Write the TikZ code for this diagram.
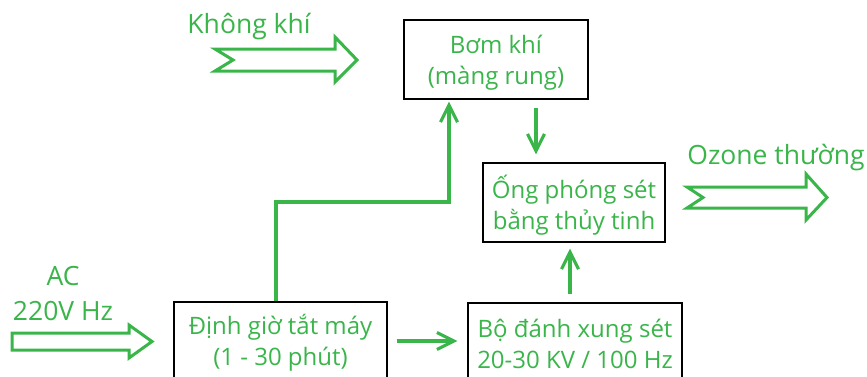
\documentclass[tikz,border=0pt]{standalone}
\usepackage{fontspec}
\setmainfont{Open Sans}
\usetikzlibrary{arrows.meta}
\definecolor{grn}{RGB}{57,181,74}
\begin{document}
\begin{tikzpicture}[x=1pt,y=-1pt,
  box/.style={draw=black,line width=1.3pt,inner sep=0pt,align=center,text=grn,font=\fontsize{24}{31}\selectfont},
  flow/.style={draw=grn,line width=3.1pt,-{Straight Barb[length=17pt,width=17pt,line width=3.1pt]}},
  hollow/.style={draw=grn,line width=3pt,fill=white,line join=miter},
  lbl/.style={text=grn,inner sep=0pt,font=\fontsize{26.5}{30}\selectfont}]
\useasboundingbox (0,0) rectangle (867,376);
\begin{scope}
\clip (0,0) rectangle (867,376);
\node[box,minimum width=184pt,minimum height=79pt,text depth=-4pt] (bom) at (496,59.5) {Bơm khí\\(màng rung)};
\node[box,minimum width=182pt,minimum height=79pt,text depth=-4pt] (ong) at (574,202.5) {Ống phóng sét\\bằng thủy tinh};
\node[box,minimum width=213pt,minimum height=82pt] (dinh) at (280.5,343) {Định giờ tắt máy\\(1 - 30 phút)};
\node[box,minimum width=214pt,minimum height=82pt] (bo) at (575,344) {Bộ đánh xung sét\\20-30 KV / 100 Hz};
\end{scope}
% labels
\node[lbl] (kk) at (249,27) {Không khí};
\node[lbl] (oz) at (776,158) {Ozone thường};
\node[lbl] (ac) at (63,276) {AC};
\node[lbl] (v) at (63,311) {220V Hz};
% hollow arrows
\draw[hollow] (215,49) -- (335,49) -- (335,37) -- (357,60) -- (335,82) -- (335,71) -- (215,71) -- (233,60) -- cycle;
\draw[hollow] (687,187) -- (806,187) -- (806,174) -- (827,197.5) -- (806,220) -- (806,208) -- (687,208) -- (703,197.5) -- cycle;
\draw[hollow] (12,333) -- (129,333) -- (129,325) -- (152,341.5) -- (129,358) -- (129,350) -- (12,350) -- cycle;
% connectors
\coordinate (c1) at (276,202);
\coordinate (c2) at (449,202);
\coordinate (d1) at (536,107);
\coordinate (d2) at (570,270);
\coordinate (d3) at (420,341);
\draw[flow,shorten >=2pt] (c1 |- dinh.north) -- (c1) -- (c2) -- (c2 |- bom.south);
\draw[flow,shorten <=8pt,shorten >=8pt] (bom.south -| d1) -- (ong.north -| d1);
\draw[flow,shorten <=8pt,shorten >=6pt] (bo.north -| d2) -- (ong.south -| d2);
\draw[flow,shorten <=9pt,shorten >=10pt] (dinh.east |- d3) -- (bo.west |- d3);
\end{tikzpicture}
\end{document}
